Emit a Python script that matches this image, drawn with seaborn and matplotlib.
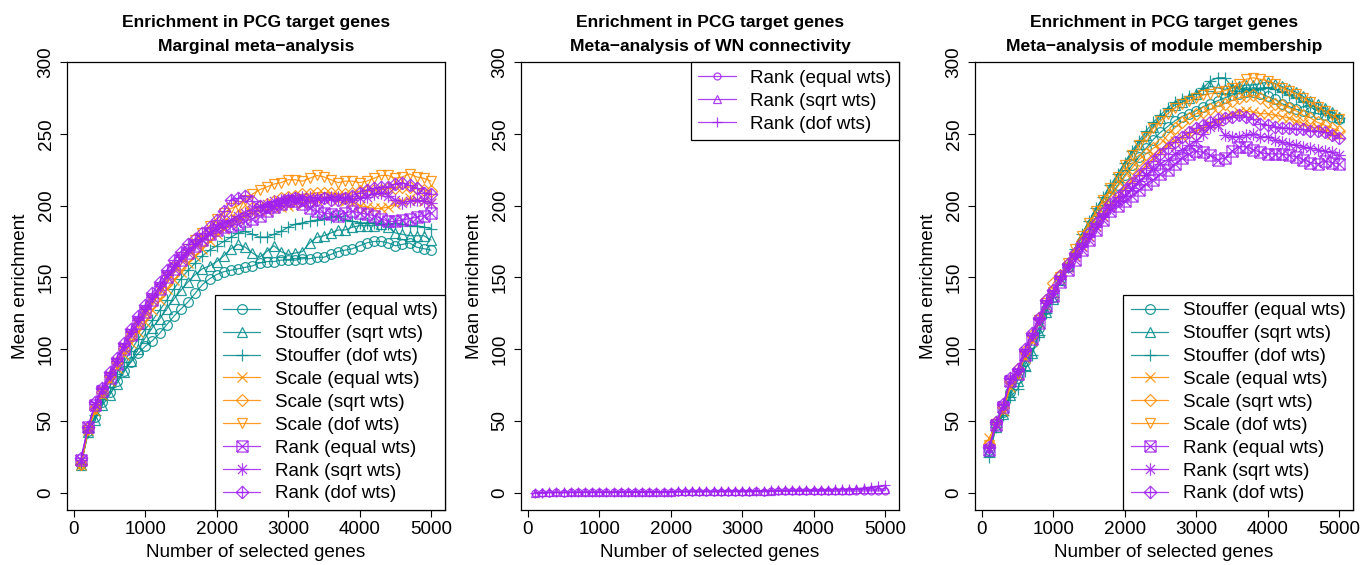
import matplotlib
matplotlib.use("Agg")
import matplotlib.pyplot as plt
from matplotlib.path import Path
import seaborn as sns

sns.set_style("ticks")
plt.rcParams['font.family'] = ['Liberation Sans', 'DejaVu Sans']
plt.rcParams['text.color'] = 'black'
plt.rcParams['axes.labelcolor'] = 'black'
plt.rcParams['xtick.color'] = 'black'
plt.rcParams['ytick.color'] = 'black'

# ---------------- data ----------------
genes = [100, 200, 300, 400, 500, 600, 700, 800, 900, 1000,
         1100, 1200, 1300, 1400, 1500, 1600, 1700, 1800, 1900, 2000,
         2100, 2200, 2300, 2400, 2500, 2600, 2700, 2800, 2900, 3000,
         3100, 3200, 3300, 3400, 3500, 3600, 3700, 3800, 3900, 4000,
         4100, 4200, 4300, 4400, 4500, 4600, 4700, 4800, 4900, 5000]

method_labels = ["Stouffer (equal wts)", "Stouffer (sqrt wts)", "Stouffer (dof wts)",
                 "Scale (equal wts)", "Scale (sqrt wts)", "Scale (dof wts)",
                 "Rank (equal wts)", "Rank (sqrt wts)", "Rank (dof wts)"]
rank_labels = ["Rank (equal wts)", "Rank (sqrt wts)", "Rank (dof wts)"]

titles = ["Enrichment in PCG target genes\nMarginal meta\u2212analysis",
          "Enrichment in PCG target genes\nMeta\u2212analysis of WN connectivity",
          "Enrichment in PCG target genes\nMeta\u2212analysis of module membership"]
xlabel = "Number of selected genes"
ylabel = "Mean enrichment"
xticks = [0, 1000, 2000, 3000, 4000, 5000]
yticks = [0, 50, 100, 150, 200, 250, 300]

# Panel 1: marginal meta-analysis
m_stouffer_equal = [20, 43, 53, 63, 70, 78, 85, 91, 97, 102,
                    106, 111, 117, 123, 128, 133, 139, 145, 149, 152,
                    154, 155, 156, 157, 158, 160, 161, 161, 162, 162,
                    162, 163, 163, 164, 164, 166, 168, 169, 170, 172,
                    174, 175, 175, 174, 172, 173, 174, 171, 170, 169]
m_stouffer_sqrt = [19, 42, 51, 61, 68, 76, 84, 92, 100, 108,
                   115, 121, 128, 135, 141, 147, 152, 156, 158, 161,
                   165, 170, 173, 171, 167, 164, 168, 172, 168, 166,
                   167, 168, 174, 178, 179, 181, 183, 183, 185, 186,
                   186, 186, 187, 185, 181, 180, 179, 179, 179, 176]
m_stouffer_dof = [20, 42, 54, 65, 74, 83, 91, 99, 107, 114,
                  120, 127, 134, 142, 149, 155, 160, 165, 169, 172,
                  175, 178, 181, 182, 180, 178, 178, 180, 182, 185,
                  187, 188, 189, 190, 191, 192, 193, 190, 189, 188,
                  188, 188, 187, 187, 188, 187, 186, 186, 185, 184]
m_scale_equal = [19, 44, 57, 68, 78, 87, 96, 104, 112, 119,
                 127, 134, 142, 148, 154, 160, 165, 170, 175, 180,
                 184, 188, 191, 193, 195, 196, 197, 198, 199, 200,
                 201, 202, 203, 204, 205, 205, 204, 203, 202, 200,
                 199, 198, 198, 199, 201, 203, 205, 204, 203, 202]
m_scale_sqrt = [20, 45, 59, 70, 81, 91, 100, 109, 117, 124,
                132, 139, 146, 153, 159, 165, 170, 175, 179, 183,
                187, 190, 193, 196, 198, 200, 201, 203, 205, 206,
                207, 208, 208, 209, 209, 209, 208, 208, 209, 210,
                210, 211, 211, 212, 212, 213, 213, 212, 211, 210]
m_scale_dof = [19, 44, 58, 70, 80, 90, 100, 109, 118, 126,
               134, 142, 150, 157, 164, 170, 176, 181, 186, 191,
               195, 198, 200, 204, 208, 211, 213, 215, 216, 218,
               218, 217, 219, 221, 220, 218, 216, 217, 217, 216,
               217, 219, 221, 221, 219, 220, 222, 220, 219, 217]
m_rank_equal = [23, 46, 61, 71, 80, 90, 100, 110, 118, 126,
                134, 142, 150, 156, 162, 167, 172, 176, 180, 183,
                185, 186, 187, 189, 191, 193, 196, 199, 201, 203,
                203, 201, 198, 196, 195, 194, 193, 195, 196, 195,
                194, 193, 191, 189, 189, 190, 191, 192, 193, 195]
m_rank_sqrt = [23, 46, 62, 72, 82, 92, 102, 112, 120, 128,
               136, 144, 152, 158, 164, 169, 173, 177, 181, 185,
               188, 190, 193, 195, 197, 199, 201, 203, 204, 205,
               205, 206, 206, 205, 205, 206, 206, 205, 204, 205,
               206, 208, 209, 207, 204, 202, 203, 204, 203, 202]
m_rank_dof = [24, 46, 63, 73, 84, 94, 104, 114, 123, 131,
              139, 147, 155, 162, 168, 173, 177, 181, 185, 190,
              196, 204, 205, 207, 203, 200, 199, 200, 202, 204,
              205, 204, 203, 204, 205, 204, 204, 205, 207, 209,
              211, 212, 213, 213, 215, 216, 214, 212, 209, 208]

# Panel 2: WN connectivity
w_rank_equal = [0.1, 0.1, 0.1, 0.2, 0.1, 0.2, 0.2, 0.3, 0.2, 0.3,
                0.3, 0.3, 0.4, 0.3, 0.4, 0.4, 0.5, 0.4, 0.5, 0.5,
                0.6, 0.5, 0.6, 0.6, 0.7, 0.6, 0.7, 0.7, 0.8, 0.7,
                0.8, 0.9, 0.8, 0.9, 1.0, 0.9, 1.0, 1.0, 1.1, 1.0,
                1.1, 1.2, 1.1, 1.2, 1.3, 1.2, 1.3, 1.4, 1.3, 1.5]
w_rank_sqrt = [0.1, 0.2, 0.2, 0.2, 0.3, 0.3, 0.3, 0.4, 0.4, 0.4,
               0.5, 0.5, 0.5, 0.6, 0.6, 0.7, 0.7, 0.7, 0.8, 0.8,
               0.9, 0.9, 1.0, 1.0, 1.1, 1.1, 1.2, 1.2, 1.3, 1.3,
               1.4, 1.4, 1.5, 1.5, 1.6, 1.6, 1.7, 1.8, 1.8, 1.9,
               1.9, 2.0, 2.1, 2.1, 2.2, 2.3, 2.4, 2.5, 2.6, 2.7]
w_rank_dof = [0.1, 0.1, 0.2, 0.2, 0.2, 0.3, 0.3, 0.3, 0.4, 0.4,
              0.4, 0.5, 0.5, 0.6, 0.6, 0.6, 0.7, 0.7, 0.8, 0.8,
              0.9, 0.9, 1.0, 1.0, 1.1, 1.1, 1.2, 1.2, 1.3, 1.3,
              1.4, 1.4, 1.5, 1.6, 1.6, 1.7, 1.8, 1.8, 1.9, 2.0,
              2.1, 2.2, 2.3, 2.5, 2.7, 2.9, 3.3, 4.0, 4.6, 5.2]

# Panel 3: module membership
k_stouffer_equal = [30, 47, 56, 70, 80, 92, 104, 115, 128, 136,
                    148, 157, 166, 175, 183, 192, 200, 207, 214, 221,
                    228, 234, 240, 246, 251, 255, 259, 262, 264, 266,
                    269, 271, 273, 275, 277, 278, 279, 279, 278, 276,
                    274, 271, 269, 267, 266, 265, 264, 263, 262, 260]
k_stouffer_sqrt = [29, 46, 55, 68, 78, 89, 97, 112, 126, 135,
                   148, 158, 168, 178, 187, 196, 204, 212, 220, 228,
                   236, 243, 249, 255, 261, 266, 270, 272, 275, 278,
                   281, 283, 282, 281, 282, 283, 284, 284, 285, 286,
                   285, 283, 281, 279, 276, 273, 271, 268, 265, 262]
k_stouffer_dof = [25, 46, 54, 67, 72, 85, 96, 110, 125, 136,
                  149, 160, 170, 180, 189, 198, 206, 214, 222, 230,
                  238, 245, 252, 258, 263, 268, 272, 274, 276, 278,
                  282, 287, 289, 289, 283, 282, 281, 281, 282, 282,
                  281, 279, 277, 275, 272, 270, 268, 266, 263, 261]
k_scale_equal = [38, 48, 57, 74, 82, 94, 106, 118, 130, 139,
                 149, 157, 165, 172, 179, 186, 193, 200, 206, 212,
                 218, 223, 228, 233, 238, 242, 245, 248, 250, 252,
                 254, 257, 259, 262, 264, 265, 266, 265, 264, 264,
                 263, 262, 261, 259, 257, 255, 254, 252, 250, 249]
k_scale_sqrt = [34, 49, 60, 78, 86, 99, 110, 122, 134, 146,
                152, 159, 166, 175, 183, 191, 199, 206, 213, 220,
                226, 232, 236, 240, 243, 249, 254, 258, 261, 264,
                265, 267, 269, 271, 273, 275, 276, 277, 275, 272,
                271, 270, 268, 266, 263, 261, 258, 256, 254, 252]
k_scale_dof = [33, 48, 58, 76, 83, 96, 108, 120, 132, 140,
               150, 160, 170, 179, 188, 196, 204, 212, 220, 228,
               235, 242, 248, 254, 259, 264, 268, 271, 273, 275,
               277, 278, 279, 280, 282, 285, 288, 289, 288, 287,
               285, 282, 280, 278, 275, 272, 269, 266, 263, 260]
k_rank_equal = [30, 47, 60, 78, 83, 96, 107, 118, 130, 137,
                147, 155, 162, 169, 176, 183, 190, 196, 200, 203,
                207, 211, 215, 218, 222, 225, 229, 233, 236, 238,
                237, 235, 232, 233, 238, 241, 241, 239, 237, 236,
                236, 236, 235, 234, 232, 230, 229, 231, 230, 229]
k_rank_sqrt = [31, 48, 61, 79, 85, 99, 110, 121, 132, 139,
               149, 157, 164, 171, 178, 185, 192, 198, 203, 207,
               212, 217, 221, 225, 229, 232, 236, 239, 242, 245,
               250, 255, 256, 249, 248, 248, 249, 250, 248, 248,
               246, 244, 243, 242, 241, 240, 239, 238, 237, 235]
k_rank_dof = [32, 49, 62, 80, 86, 100, 111, 122, 134, 141,
              151, 159, 167, 174, 181, 188, 195, 201, 206, 211,
              216, 221, 226, 231, 236, 240, 244, 248, 251, 254,
              256, 258, 260, 261, 262, 263, 262, 260, 257, 256,
              255, 254, 254, 253, 253, 252, 252, 251, 249, 247]

marginal = [m_stouffer_equal, m_stouffer_sqrt, m_stouffer_dof,
            m_scale_equal, m_scale_sqrt, m_scale_dof,
            m_rank_equal, m_rank_sqrt, m_rank_dof]
wnconn = [w_rank_equal, w_rank_sqrt, w_rank_dof]
module = [k_stouffer_equal, k_stouffer_sqrt, k_stouffer_dof,
          k_scale_equal, k_scale_sqrt, k_scale_dof,
          k_rank_equal, k_rank_sqrt, k_rank_dof]

# ---------------- styles ----------------
TEAL, ORANGE, PURPLE = "#008B8B", "#FF8C00", "#A020F0"
M, L = Path.MOVETO, Path.LINETO
square_x = Path([(-1, -1), (1, -1), (1, 1), (-1, 1), (-1, -1), (-1, -1), (1, 1), (-1, 1), (1, -1)],
                [M, L, L, L, L, M, L, M, L])
asterisk = Path([(-1, 0), (1, 0), (0, -1), (0, 1), (-0.72, -0.72), (0.72, 0.72), (-0.72, 0.72), (0.72, -0.72)],
                [M, L, M, L, M, L, M, L])
diamond_plus = Path([(0, -1), (1, 0), (0, 1), (-1, 0), (0, -1), (-1, 0), (1, 0), (0, -1), (0, 1)],
                    [M, L, L, L, L, M, L, M, L])
colors9 = [TEAL] * 3 + [ORANGE] * 3 + [PURPLE] * 3
markers9 = ["o", "^", "+", "x", "D", "v", square_x, asterisk, diamond_plus]
msize9 = [7, 7.5, 9, 7, 6.2, 7.5, 8, 9, 9]
markers3 = ["o", "^", "+"]
msize3 = [5, 5.5, 7]

fig = plt.figure(figsize=(13.61, 5.65), dpi=100)
W, H = 1361, 565
lefts = [67, 521, 975]
axes = [fig.add_axes([l / W, 55 / H, 378 / W, 448 / H]) for l in lefts]

FS = 13.6
TFS = 12.6


def draw(ax, series, labels, colors, markers, sizes):
    for vals, lab, c, m, s in zip(series, labels, colors, markers, sizes):
        sns.lineplot(x=genes, y=vals, ax=ax, color=c, marker=m, markersize=s,
                     markerfacecolor="none", markeredgecolor=c, markeredgewidth=0.9,
                     linewidth=0.9, alpha=0.85, label=lab, legend=False)


draw(axes[0], marginal, method_labels, colors9, markers9, msize9)
draw(axes[1], wnconn, rank_labels, [PURPLE] * 3, markers3, msize3)
draw(axes[2], module, method_labels, colors9, markers9, msize9)

for i, ax in enumerate(axes):
    ax.set_xlim(-96, 5196)
    ax.set_ylim(-12, 300)
    ax.set_xticks(xticks)
    ax.set_yticks(yticks)
    ax.tick_params(axis="both", direction="out", length=5, width=0.8, labelsize=FS,
                   color="black", labelcolor="black")
    ax.tick_params(axis="x", pad=3)
    ax.tick_params(axis="y", pad=4)
    for lab in ax.get_yticklabels():
        lab.set_rotation(90)
        lab.set_va("center")
    for sp in ax.spines.values():
        sp.set_visible(True)
        sp.set_color("black")
        sp.set_linewidth(0.9)
    ax.set_xlabel(xlabel, fontsize=FS, labelpad=4, color="black")
    ax.set_ylabel(ylabel, fontsize=FS, labelpad=6, color="black")
    ax.set_title(titles[i], fontsize=TFS, fontweight="bold", linespacing=1.75, pad=8,
                 color="black")
    ax.grid(False)
    loc = "upper right" if i == 1 else "lower right"
    leg = ax.legend(loc=loc, fontsize=FS, frameon=True, fancybox=False, framealpha=1,
                    edgecolor="black", borderaxespad=0, handlelength=2.0,
                    handletextpad=0.75, labelspacing=0.3, borderpad=0.4, numpoints=1,
                    labelcolor="black")
    leg.get_frame().set_linewidth(0.9)

fig.savefig("out.png", dpi=100)
